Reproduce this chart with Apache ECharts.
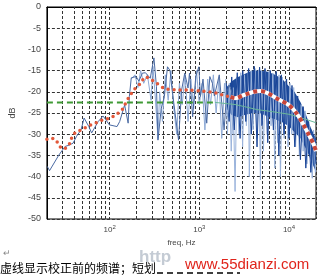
<!DOCTYPE html>
<html><head><meta charset="utf-8">
<script src="https://cdn.jsdelivr.net/npm/echarts@6/dist/echarts.min.js"></script>
<style>html,body{margin:0;padding:0;background:#fff}#c{width:319px;height:277px}</style>
</head><body><div id="c"></div>
<script>
// ---- data ----
const yTicks = [0,-5,-10,-15,-20,-25,-30,-35,-40,-45,-50];
const minorGridX = [30,40,50,60,70,80,90,200,300,400,500,600,700,800,900,2000,3000,4000,5000,6000,7000,8000,9000];

// red dotted smoothed curve (low/mid freq)
const redDotF = [20,22.2,25,27,30.5,34.5,37,38.8,43.9,52,61.6,71.2,84.4,100,115.7,137,147.4,162,188,222,251,284,336,408,520,749,1073,1542,1826,2224];
const redDotV = [-31.2,-31.0,-31.2,-32.5,-33.5,-32.8,-31.5,-30.2,-29.4,-28.6,-27.8,-27.3,-26.6,-26.2,-25.5,-24.3,-23.1,-21.5,-19.5,-18,-16.5,-17,-18,-19.2,-19.5,-19.6,-19.8,-20.3,-20.8,-21.2];
// red/white dashed smoothed curve (high freq)
const redDashF = [2224,2505,3193,4070,4800,5770,7808,9900,12080,14200,16700,18900,20000];
const redDashV = [-21.2,-21.5,-20.7,-20.0,-19.8,-20.3,-21.9,-23.1,-25.0,-27.4,-30.2,-32.5,-34.0];

// green target line
const greenDashF = [20,1500];
const greenDashV = [-22.5,-22.5];
const greenSolidF = [1500,2500,3200,4400,6600,10000,16000,20000];
const greenSolidV = [-22.5,-23,-23.5,-24.2,-24.7,-25.3,-26.6,-27.3];

// raw spectrum, low/mid freq
const rawF = [20.2,21.4,27.2,31.9,36.1,39.2,42.8,48,52,58.7,63,74.8,84.4,90.8,99.3,121,129.6,147,161,166,174.4,197.5,212,232,251,284,312,333,346,376,408,442,472,494,537,587,635,688,749,777,843,913,988,1029,1100,1210,1310,1400,1472,1670,1890,2020,2170,2400];
const rawV = [-37.6,-38.6,-34.9,-32.9,-32.5,-32.1,-30.5,-29,-26.2,-28.2,-29.7,-27,-25.7,-26.6,-27.8,-28.2,-27,-23.1,-27.4,-21.1,-16.7,-16.4,-17.5,-15.6,-15.5,-16.8,-12,-18.8,-31.4,-24,-21.1,-14.1,-15,-19,-25,-31.4,-19.6,-15.6,-19.1,-15.6,-25.9,-16.4,-14.1,-21.1,-17,-27.4,-16.4,-18,-21,-16,-29,-20,-18.5,-21.1];

// lighter spiky trace, mid freq
const midF = [174,192,207,222,240,264,290,304,320,346,361,388,418,450,483,520,560,600,645,693,749,805,865,930,1000,1075,1155,1240,1335,1435,1540,1655,1780,1910,2060,2220,2380];
const midV = [-17,-16,-19,-15,-18,-16,-22,-14,-20,-31,-20,-27,-16,-22,-15,-24,-30,-18,-23,-16,-27,-17,-24,-15,-23,-18,-29,-17,-23,-16,-25,-17,-31,-18,-26,-19,-30];

// dense high-freq band envelope
const bandF = [2000,2300,2700,3200,3900,4700,5800,7000,8400,9800,11500,13500,15500,17500,20000];
const bandLow = [-24,-25.5,-26,-25.5,-25,-25,-25.8,-26.5,-27.2,-28,-29.5,-31,-33.5,-36,-39];
const bandHigh = [-19,-17.5,-16.5,-15.8,-15,-15,-15.3,-16,-17,-18.5,-20,-22.5,-25.5,-28.5,-31];

// dark trace over the band
const darkF = [2000,2150,2300,2450,2650,2850,3050,3300,3550,3800,4100,4400,4700,5000,5400,5800,6200,6700,7200,7700,8200,8800,9400,10000,10800,11600,12500,13400,14400,15400,16400,17500,18700,20000];
const darkV = [-18,-27,-16.5,-29,-15.5,-31,-15,-27,-14.5,-30,-14,-33,-14.2,-28,-14.5,-32,-15,-29,-15.2,-35,-16,-30,-17,-31,-18.5,-33,-21,-36,-23.5,-38,-27,-39,-30,-37];

// light spikes, high freq
const spikeF = [1966,2060,2160,2270,2380,2505,2625,2760,2900,3040,3190,3350,3520,3610,3790,3980,4180,4390,4610,4800,4950,5190,5450,5720,6010,6310,6610,6950,7200,7470,7740,8030,8430,8850,9290,9760,10250,10740,11280,11840,12430,13050,13690,14380,15100,15850,16640,17450,18180,18780,19700,20000];
const spikeV = [-17,-30,-18,-34,-19,-43.5,-16.5,-30,-15.5,-33,-16,-28,-15,-40,-15,-29,-14.5,-31,-14.8,-40.8,-15,-34,-14.8,-30,-15,-28,-15.6,-38,-15.5,-32,-16,-40,-16.5,-31,-17,-33,-18,-30,-19,-33,-21,-35,-23,-34,-24.5,-37,-27,-35,-40.4,-29,-39,-32];

// ---- chart ----
const zip = (f, v) => f.map((x, i) => [x, v[i]]);
const gridStyle = {color: '#333', type: [3, 2], width: 1};
const isPow10 = v => Math.abs(Math.log10(v) - Math.round(Math.log10(v))) < 1e-6;

const chart = echarts.init(document.getElementById('c'), null, {renderer: 'canvas'});
chart.setOption({
  animation: false,
  backgroundColor: '#fff',
  grid: {left: 31, right: 3, top: 7, bottom: 58, show: true, borderColor: '#000', borderWidth: 1},
  xAxis: {
    type: 'log', logBase: 10, min: 20, max: 20000,
    name: 'freq, Hz', nameLocation: 'middle', nameGap: 20,
    nameTextStyle: {fontSize: 8, color: '#444', fontFamily: 'Liberation Sans'},
    axisLine: {show: true, lineStyle: {color: '#000'}},
    axisTick: {show: false},
    splitLine: {show: true, lineStyle: gridStyle},
    axisLabel: {
      margin: 5,
      formatter: v => isPow10(v) ? '{b|10}{s|' + Math.round(Math.log10(v)) + '}' : '',
      rich: {
        b: {fontSize: 8, color: '#444', fontFamily: 'Liberation Sans'},
        s: {fontSize: 6, color: '#444', fontFamily: 'Liberation Sans', verticalAlign: 'top', padding: [0, 0, 5, 0]}
      }
    }
  },
  yAxis: {
    type: 'value', min: -50, max: 0, interval: 5,
    name: 'dB', nameLocation: 'middle', nameGap: 20, nameRotate: 90,
    nameTextStyle: {fontSize: 9, color: '#444', fontFamily: 'Liberation Sans'},
    axisLine: {show: true, lineStyle: {color: '#000'}},
    axisTick: {show: false},
    splitLine: {show: true, lineStyle: gridStyle},
    axisLabel: {fontSize: 9, color: '#444', margin: 6, fontFamily: 'Liberation Sans'}
  },
  series: [
    {type: 'line', data: [], markLine: {silent: true, symbol: ['none', 'none'], z: 1,
      label: {show: false}, lineStyle: gridStyle, data: minorGridX.map(v => ({xAxis: v}))}},
    {type: 'custom', z: 2, silent: true, data: [0],
      renderItem: (params, api) => {
        const pts = bandF.map((f, i) => api.coord([f, bandHigh[i]]))
          .concat(bandF.map((f, i) => api.coord([f, bandLow[i]])).reverse());
        return {type: 'polygon', shape: {points: pts}, style: {fill: '#1e4c9c'}};
      }},
    {type: 'line', data: zip(spikeF, spikeV), symbol: 'none', lineStyle: {color: '#9bb4dc', width: 1}, z: 3},
    {type: 'line', data: zip(darkF, darkV), symbol: 'none', lineStyle: {color: '#1a4598', width: 1}, z: 3},
    {type: 'line', data: zip(midF, midV), symbol: 'none', lineStyle: {color: '#8eaad6', width: 1}, z: 3},
    {type: 'line', data: zip(rawF, rawV), symbol: 'none', lineStyle: {color: '#4a6aa3', width: 1}, z: 4},
    {type: 'line', data: zip(greenDashF, greenDashV), symbol: 'none', lineStyle: {color: '#3f9a35', width: 2, type: [6, 4]}, z: 5},
    {type: 'line', data: zip(greenSolidF, greenSolidV), symbol: 'none', lineStyle: {color: '#6ab89a', width: 1}, z: 5},
    {type: 'line', data: zip(redDotF, redDotV), symbol: 'none', smooth: 0.3,
      lineStyle: {color: '#e2583a', width: 3.5, type: [0, 6], cap: 'round'}, z: 6},
    {type: 'line', data: zip(redDashF, redDashV), symbol: 'none', smooth: 0.3,
      lineStyle: {color: '#ffffff', width: 4}, z: 6},
    {type: 'line', data: zip(redDashF, redDashV), symbol: 'none', smooth: 0.3,
      lineStyle: {color: '#c8463a', width: 4, type: [4, 4]}, z: 7}
  ],
  graphic: [
    {type: 'text', left: 3, top: 249, style: {text: '↵', fontSize: 9, fill: '#888'}},
    {type: 'text', left: 139, top: 249, z: 0, style: {text: 'http', fontSize: 17, fontWeight: 'bold', fill: '#c4cbd4', fontFamily: 'Liberation Sans'}},
    {type: 'text', left: 0, top: 262, z: 5, style: {text: '虚线显示校正前的频谱；短划', fontSize: 12, fill: '#000', fontFamily: 'Noto Sans CJK SC'}},
    {type: 'line', z: 5, shape: {x1: 157, y1: 273, x2: 240, y2: 273}, style: {stroke: '#000', lineWidth: 1.5, lineDash: [6, 4]}},
    {type: 'text', left: 185, top: 257, z: 6, style: {text: 'www.55dianzi.com', fontSize: 15, fill: '#e0241b', fontFamily: 'Liberation Sans'}}
  ]
});
</script></body></html>
